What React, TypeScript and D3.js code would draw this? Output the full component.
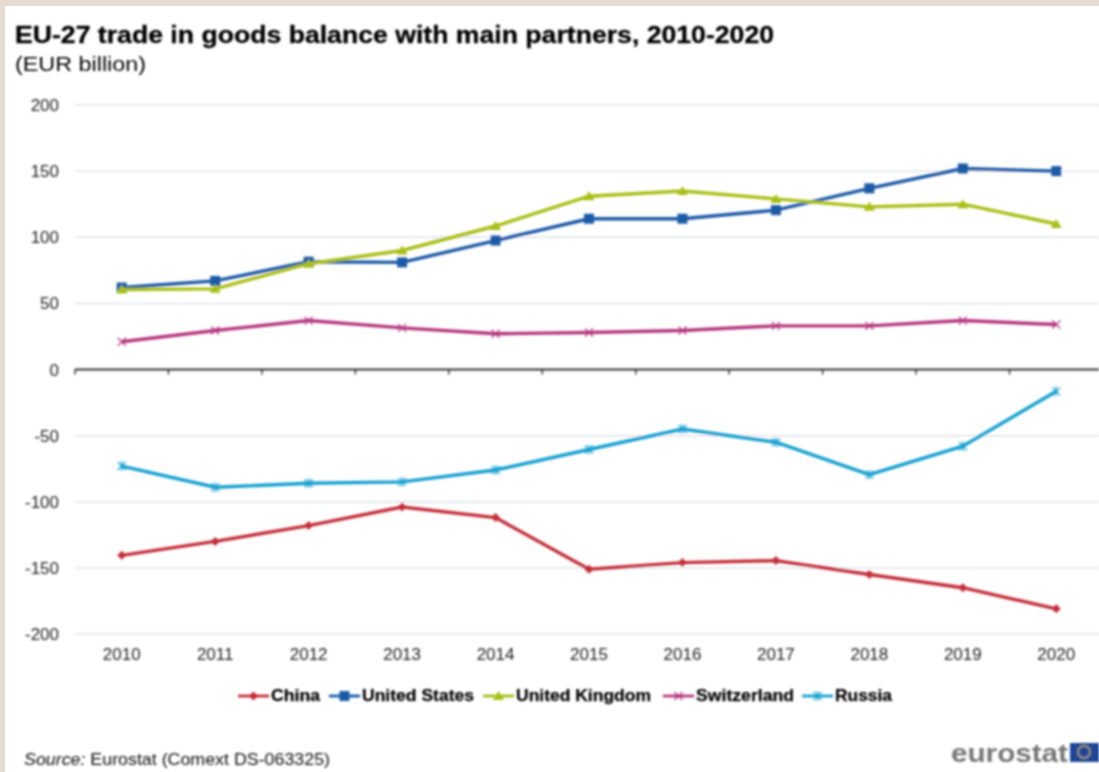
import React from "react";
import * as d3 from "d3";

const years = ["2010","2011","2012","2013","2014","2015","2016","2017","2018","2019","2020"];
const yTicks = [200,150,100,50,0,-50,-100,-150,-200];
const china = [-140.5,-130,-118,-104,-112,-151,-146,-144.5,-155,-165,-181];
const unitedStates = [62,67,81.5,81,97.5,114,114,120.5,137,152,150];
const unitedKingdom = [60.5,61,80,90,108.5,131,135,129,123,125,110];
const switzerland = [21,29.5,37,31.5,27,28,29.5,33,33,37,34];
const russia = [-73,-89,-86,-85,-76,-60.5,-45,-55,-79.5,-58,-16.5];
const seriesNames = ["China","United States","United Kingdom","Switzerland","Russia"];
const seriesColors = ["#c42e3b","#1d5aa6","#a9bf14","#b5377f","#17a0d0"];
const seriesValues = [china,unitedStates,unitedKingdom,switzerland,russia];
const seriesMarks = ["diamond","square","triangle","cross","star"];
const legendX = [238,329,483,663,802];
const legendWidths = [49,112,135,98,57];

const W = 1099, H = 772;
const FONT = "'Liberation Sans', Arial, sans-serif";
const x = d3.scaleBand<string>().domain(years).range([75,1103]);
const cx = (y: string) => (x(y) as number) + x.bandwidth()/2;
const yScale = d3.scaleLinear().domain([-200,200]).range([634,105]);

function Marker({kind,px,py,color}:{kind:string;px:number;py:number;color:string}) {
  if (kind==="square") return <rect x={px-5} y={py-5} width={10} height={10} fill={color}/>;
  if (kind==="diamond") return <path d={`M${px} ${py-4.5}L${px+4.5} ${py}L${px} ${py+4.5}L${px-4.5} ${py}Z`} fill={color}/>;
  if (kind==="triangle") return <path d={`M${px} ${py-5}L${px+5.5} ${py+4}L${px-5.5} ${py+4}Z`} fill={color}/>;
  const r=4;
  if (kind==="cross") return <path d={`M${px-r} ${py-r}L${px+r} ${py+r}M${px-r} ${py+r}L${px+r} ${py-r}`} stroke={color} strokeWidth={1.2} fill="none"/>;
  return <path d={`M${px-r} ${py-r}L${px+r} ${py+r}M${px-r} ${py+r}L${px+r} ${py-r}M${px} ${py-r-1}L${px} ${py+r+1}`} stroke={color} strokeWidth={1.2} fill="none"/>;
}

export default function App() {
  const line = d3.line<number>().x((_,i)=>cx(years[i])).y(d=>yScale(d));
  const stars = d3.range(12).map(i=>{
    const a = i/12*2*Math.PI;
    return [1084+6*Math.cos(a), 752+6*Math.sin(a)];
  });
  return (
    <svg width={W} height={H} viewBox={`0 0 ${W} ${H}`} style={{position:"fixed",left:0,top:0,display:"block"}} fontFamily={FONT}>
      <defs>
        <filter id="soft" filterUnits="userSpaceOnUse" x={0} y={0} width={W} height={H}>
          <feGaussianBlur stdDeviation="0.85"/>
        </filter>
      </defs>
      <rect x={0} y={0} width={W} height={H} fill="#e4dcd1"/>
      <rect x={5} y={6} width={W-5} height={H-6} fill="#ffffff"/>
      <g filter="url(#soft)">
        <text x={15} y={43} fontSize={23} fontWeight={700} fill="#000000" stroke="#000000" strokeWidth={0.3} textLength={759} lengthAdjust="spacingAndGlyphs">EU-27 trade in goods balance with main partners, 2010-2020</text>
        <text x={15} y={71} fontSize={20} fill="#000000" textLength={131} lengthAdjust="spacingAndGlyphs">(EUR billion)</text>
        {yTicks.filter(t=>t!==0).map(t=>(
          <line key={t} x1={75} x2={W} y1={yScale(t)} y2={yScale(t)} stroke="#dfe2e6" strokeWidth={1.5}/>
        ))}
        {yTicks.map(t=>(
          <text key={t} x={59} y={yScale(t)+6} textAnchor="end" fontSize={17} fill="#222222">{t}</text>
        ))}
        <line x1={75} x2={W} y1={yScale(0)} y2={yScale(0)} stroke="#333333" strokeWidth={1.8}/>
        {[...years.map(y=>x(y) as number),1103].filter(v=>v<W).map(v=>(
          <line key={v} x1={v} x2={v} y1={yScale(0)} y2={yScale(0)+5} stroke="#333333" strokeWidth={1.4}/>
        ))}
        {years.map(y=>(
          <text key={y} x={cx(y)} y={660} textAnchor="middle" fontSize={17} fill="#222222">{y}</text>
        ))}
        {seriesValues.map((vals,i)=>(
          <g key={seriesNames[i]}>
            <path d={line(vals) as string} fill="none" stroke={seriesColors[i]} strokeWidth={3.4}/>
            {vals.map((v,j)=>(
              <Marker key={j} kind={seriesMarks[i]} px={cx(years[j])} py={yScale(v)} color={seriesColors[i]}/>
            ))}
          </g>
        ))}
        {seriesNames.map((n,i)=>(
          <g key={n}>
            <line x1={legendX[i]} x2={legendX[i]+31} y1={696} y2={696} stroke={seriesColors[i]} strokeWidth={2.8}/>
            <Marker kind={seriesMarks[i]} px={legendX[i]+15.5} py={696} color={seriesColors[i]}/>
            <text x={legendX[i]+33} y={701} fontSize={17} fontWeight={700} fill="#000000" stroke="#000000" strokeWidth={0.25} textLength={legendWidths[i]} lengthAdjust="spacingAndGlyphs">{n}</text>
          </g>
        ))}
        <text x={24} y={765} fontSize={17} fill="#111111" textLength={306} lengthAdjust="spacingAndGlyphs"><tspan fontStyle="italic">Source:</tspan> Eurostat (Comext DS-063325)</text>
        <text x={951} y={762} fontSize={25} fontWeight={700} fill="#777777" textLength={117} lengthAdjust="spacingAndGlyphs">eurostat</text>
        <rect x={1070} y={743} width={29} height={19} fill="#1a4796"/>
        {stars.map((s,i)=>(<circle key={i} cx={s[0]} cy={s[1]} r={1} fill="#d9c04a"/>))}
      </g>
    </svg>
  );
}
